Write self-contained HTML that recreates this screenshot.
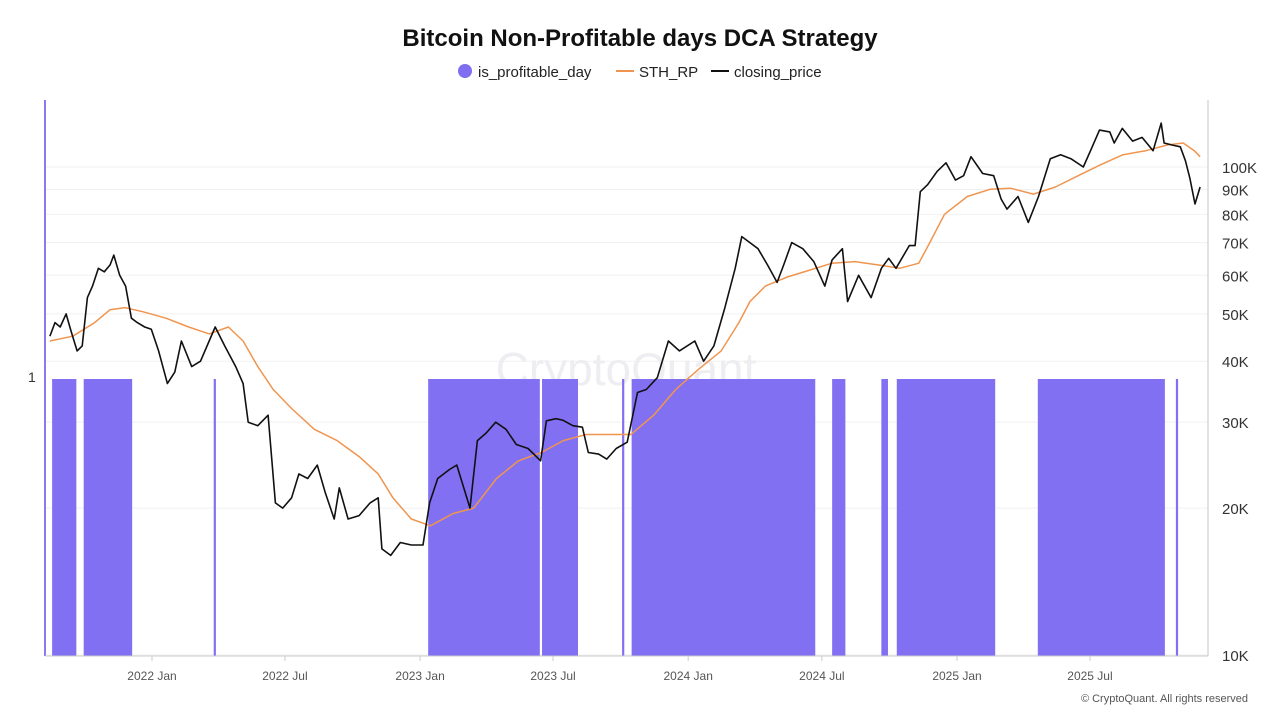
<!DOCTYPE html>
<html><head><meta charset="utf-8"><style>
body{margin:0;background:#fff;font-family:"Liberation Sans",sans-serif;}
#wrap{position:relative;width:1280px;height:720px;overflow:hidden;}
</style></head><body>
<div id="wrap">
<svg id="chart" width="1280" height="720"></svg>
</div>
<script>
const priceDates=["2021-08-15","2021-08-22","2021-08-29","2021-09-06","2021-09-13","2021-09-21","2021-09-28","2021-10-05","2021-10-12","2021-10-20","2021-10-28","2021-11-05","2021-11-10","2021-11-18","2021-11-26","2021-12-04","2021-12-12","2021-12-22","2021-12-31","2022-01-10","2022-01-22","2022-02-01","2022-02-10","2022-02-24","2022-03-08","2022-03-28","2022-04-10","2022-04-25","2022-05-05","2022-05-12","2022-05-25","2022-06-08","2022-06-18","2022-06-28","2022-07-10","2022-07-20","2022-08-01","2022-08-14","2022-08-25","2022-09-06","2022-09-13","2022-09-25","2022-10-10","2022-10-25","2022-11-05","2022-11-10","2022-11-22","2022-12-05","2022-12-20","2023-01-05","2023-01-14","2023-01-25","2023-02-10","2023-02-20","2023-03-10","2023-03-20","2023-04-01","2023-04-14","2023-04-28","2023-05-12","2023-05-28","2023-06-14","2023-06-22","2023-07-05","2023-07-14","2023-07-28","2023-08-10","2023-08-18","2023-09-01","2023-09-12","2023-09-25","2023-10-10","2023-10-24","2023-11-05","2023-11-20","2023-12-05","2023-12-20","2024-01-10","2024-01-22","2024-02-05","2024-02-20","2024-03-05","2024-03-14","2024-03-25","2024-04-05","2024-04-18","2024-05-01","2024-05-10","2024-05-21","2024-06-05","2024-06-20","2024-07-05","2024-07-15","2024-07-29","2024-08-05","2024-08-20","2024-09-06","2024-09-20","2024-09-30","2024-10-10","2024-10-28","2024-11-05","2024-11-12","2024-11-22","2024-12-05","2024-12-17","2024-12-30","2025-01-10","2025-01-20","2025-02-05","2025-02-20","2025-03-02","2025-03-10","2025-03-25","2025-04-08","2025-04-22","2025-05-08","2025-05-22","2025-06-05","2025-06-22","2025-07-03","2025-07-14","2025-07-28","2025-08-03","2025-08-14","2025-08-28","2025-09-10","2025-09-25","2025-10-06","2025-10-10","2025-10-20","2025-11-01","2025-11-08","2025-11-14","2025-11-21","2025-11-28"];
const closingPrice=[45,48,47,50,46,42,43,54,57,62,61,63,66,60,57,49,48,47,46.5,42,36,38,44,39,40,47,43,39,36,30,29.5,31,20.5,20,21,23.5,23,24.5,21.5,19,22,19,19.3,20.5,21,16.5,16,17,16.8,16.8,20.5,23,24,24.5,20,27.5,28.5,30,29,27,26.5,25,30.2,30.5,30.3,29.5,29.3,26,25.8,25.2,26.5,27.3,34.5,35,37,44,42,44,40,43,51.5,62,72,70,68,63,58,63,70,68,64,57,64.5,68,53,60,54,62,65,62,69,69,89,92,98,102,94,96,105,97,96,86,82,87,77,87,104,106,104,100,109,119,118,112,120,113,115,108,123,112,111,110,103,95,84,91];
const rpDates=["2021-08-15","2021-09-15","2021-10-15","2021-11-05","2021-11-25","2021-12-20","2022-01-20","2022-02-20","2022-03-20","2022-04-15","2022-05-05","2022-05-25","2022-06-15","2022-07-10","2022-08-10","2022-09-10","2022-10-10","2022-11-05","2022-11-25","2022-12-20","2023-01-15","2023-02-15","2023-03-15","2023-04-15","2023-05-15","2023-06-15","2023-07-15","2023-08-15","2023-09-15","2023-10-15","2023-11-15","2023-12-15","2024-01-15","2024-02-15","2024-03-10","2024-03-25","2024-04-15","2024-05-15","2024-06-15","2024-07-15","2024-08-15","2024-09-15","2024-10-15","2024-11-10","2024-11-25","2024-12-15","2025-01-15","2025-02-15","2025-03-15","2025-04-15","2025-05-15","2025-06-15","2025-07-15","2025-08-15","2025-09-15","2025-10-15","2025-11-05","2025-11-20","2025-11-28"];
const sthRP=[44,45,48,51,51.5,50.5,49,47,45.5,47,44,39,35,32,29,27.5,25.5,23.5,21,19,18.4,19.5,20,23,25,26,27.5,28.3,28.3,28.3,31,35,38.5,42,48,53,57,59.5,61.5,63.5,64,63,62,63.5,70,80,87,90,90.5,88,91,96,101,106,108,111,112,108,105];
const barStarts=["2021-08-18","2021-09-30","2022-03-26","2023-01-12","2023-06-16","2023-10-03","2023-10-16","2024-07-15","2024-09-20","2024-10-11","2025-04-21","2025-10-26"];
const barEnds=["2021-09-20","2021-12-05","2022-03-29","2023-06-13","2023-08-04","2023-10-06","2024-06-22","2024-08-02","2024-09-29","2025-02-22","2025-10-11","2025-10-29"];
const yTicks=[10000,20000,30000,40000,50000,60000,70000,80000,90000,100000];
const yTickLabels=["10K","20K","30K","40K","50K","60K","70K","80K","90K","100K"];
const xTickDates=["2022-01-01","2022-07-01","2023-01-01","2023-07-01","2024-01-01","2024-07-01","2025-01-01","2025-07-01"];
const xTickLabels=["2022 Jan","2022 Jul","2023 Jan","2023 Jul","2024 Jan","2024 Jul","2025 Jan","2025 Jul"];

const NS="http://www.w3.org/2000/svg";
const svg=document.getElementById('chart');
const L=45,R=1208,T=100,B=656;
const D0=Date.parse("2022-01-01"),PXD=0.7345;
function xs(d){return 152+(Date.parse(d)-D0)/86400000*PXD;}
function ys(v){return 655-(Math.log10(v)-4)*488;}
function el(t,a,p){const e=document.createElementNS(NS,t);for(const k in a)e.setAttribute(k,a[k]);(p||svg).appendChild(e);return e;}

let t=el('text',{x:640,y:46,'text-anchor':'middle','font-size':24,'font-weight':'bold',fill:'#111'});t.textContent="Bitcoin Non-Profitable days DCA Strategy";

let g=el('g',{});
el('circle',{cx:465,cy:71,r:7,fill:'#7f6ef0'},g);
t=el('text',{x:478,y:77,'font-size':15,fill:'#222'},g);t.textContent="is_profitable_day";
el('line',{x1:616,y1:71,x2:634,y2:71,stroke:'#f0954f','stroke-width':2},g);
t=el('text',{x:639,y:77,'font-size':15,fill:'#222'},g);t.textContent="STH_RP";
el('line',{x1:711,y1:71,x2:729,y2:71,stroke:'#111','stroke-width':2},g);
t=el('text',{x:734,y:77,'font-size':15,fill:'#222'},g);t.textContent="closing_price";

yTicks.forEach((v,i)=>{
  const y=ys(v);
  const gl=el('line',{x1:L,x2:R,y1:y,y2:y,stroke:'#f1f1f1','stroke-width':1});
  
  const tx=el('text',{x:1222,y:y+6,'font-size':15,fill:'#333'});tx.textContent=yTickLabels[i];
  
});
t=el('text',{x:626,y:385,'text-anchor':'middle','font-size':46,fill:'#eeeef2'});t.textContent="CryptoQuant";


barStarts.forEach((s,i)=>{
  const x1=xs(s),x2=xs(barEnds[i]);
  const r=el('rect',{x:x1,y:379,width:Math.max(1.5,x2-x1),height:B-379,fill:'#8170f2'});
  
});

el('line',{x1:L,y1:T,x2:L,y2:B,stroke:'#8a7af2','stroke-width':2});
el('line',{x1:R,y1:T,x2:R,y2:B,stroke:'#d8d8dc','stroke-width':1.5});
el('line',{x1:L,y1:B,x2:R,y2:B,stroke:'#ccc','stroke-width':1});
t=el('text',{x:28,y:382,'font-size':14,fill:'#333'});t.textContent="1";


xTickDates.forEach((d,i)=>{
  const x=xs(d);
  el('line',{x1:x,x2:x,y1:B,y2:B+5,stroke:'#ccc'});
  const tx=el('text',{x:x,y:680,'text-anchor':'middle','font-size':12,fill:'#555'});tx.textContent=xTickLabels[i];
  
});

function path(ds,vs,col,w,name){
  let dd=ds.map((d,i)=>(i?'L':'M')+xs(d).toFixed(1)+','+ys(vs[i]*1000).toFixed(1)).join('');
  const p=el('path',{d:dd,fill:'none',stroke:col,'stroke-width':w,'stroke-linejoin':'round'});
  
}
path(rpDates,sthRP,'#f0954f',1.5,'sth-rp-line');
path(priceDates,closingPrice,'#111',1.6,'closing-price-line');

t=el('text',{x:1248,y:702,'text-anchor':'end','font-size':11,fill:'#555'});t.textContent="© CryptoQuant. All rights reserved";

</script>
</body></html>
